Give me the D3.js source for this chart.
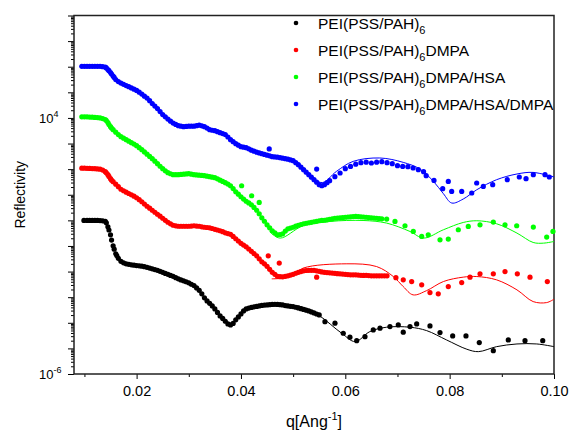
<!DOCTYPE html>
<html><head><meta charset="utf-8">
<script src="https://cdn.jsdelivr.net/npm/d3@7"></script>
<style>body{margin:0;background:#fff;}svg{display:block;font-family:Arial,"Liberation Sans",sans-serif;}</style>
</head><body>
<script>
// ---------- data ----------
const seriesNames = ["PEI(PSS/PAH)", "PEI(PSS/PAH)", "PEI(PSS/PAH)", "PEI(PSS/PAH)"];
const seriesSubs = ["6", "6", "6", "6"];
const seriesSuffix = ["", "DMPA", "DMPA/HSA", "DMPA/HSA/DMPA"];
const seriesColors = ["#000000", "#ff0000", "#00ff00", "#0000ff"];

const qBlack = [0.0099,0.0105,0.011,0.0115,0.012,0.0125,0.013,0.0135,0.014,0.0145,0.015,0.0155,0.016,0.0165,0.017,0.0175,0.018,0.019,0.020,0.021,0.022,0.023,0.024,0.025,0.026,0.027,0.028,0.029,0.030,0.031,0.032,0.0325,0.033,0.0335,0.034,0.0345,0.035,0.0355,0.036,0.0365,0.037,0.0375,0.038,0.0385,0.039,0.0395,0.040,0.0405,0.041,0.042,0.043,0.044,0.045,0.046,0.047,0.048,0.049,0.050,0.051,0.052,0.053,0.054,0.055,0.0561,0.05802,0.05961,0.06089,0.06218,0.06377,0.06536,0.06665,0.06856,0.07015,0.07111,0.0724,0.07368,0.07623,0.07815,0.08058,0.08313,0.08568,0.08837,0.09124,0.09444,0.09784,
  0.0142,0.0147,0.0152,0.0157,0.0162,0.0185,0.0195,0.0205,0.0215,0.0225,0.0235,0.0245,0.0255,0.0265,0.0275,0.0285,0.0295,0.0305,0.0315,0.0415,0.0425,0.0435,0.0445,0.0455,0.0465,0.0475,0.0485,0.0495,0.0505,0.0515,0.0525,0.0535,0.0545];
const rBlack = [0.991,0.991,0.991,0.991,0.991,0.991,0.985,0.96,0.922,0.562,0.273,0.1015,0.0494,0.0329,0.0251,0.022,0.0201,0.0183,0.0172,0.0163,0.0146,0.0128,0.0112,0.00933,0.00779,0.00651,0.0052,0.00434,0.00363,0.00285,0.00185,0.00135,0.00094,0.000717,0.000573,0.000457,0.000349,0.000254,0.000186,0.000148,0.000115,9.04e-5,8.26e-5,9.45e-5,1.30e-4,1.70e-4,2.22e-4,2.91e-4,3.49e-4,3.99e-4,4.37e-4,4.78e-4,5.0e-4,5.23e-4,5.23e-4,5.0e-4,4.57e-4,4.29e-4,3.82e-4,3.33e-4,2.91e-4,2.43e-4,2.03e-4,1.11e-4,9.63e-5,3.91e-5,2.73e-5,2.01e-5,2.88e-5,5.26e-5,6.14e-5,7.09e-5,8.26e-5,4.28e-5,7.09e-5,9.04e-5,7.55e-5,4.13e-5,3.07e-5,3.07e-5,1.68e-5,8.17e-6,2.14e-5,2.01e-5,2.01e-5,
  0.80,0.42,0.17,0.075,0.042,0.0192,0.0177,0.0168,0.0155,0.0137,0.0120,0.0102,0.0085,0.0071,0.0058,0.0047,0.0040,0.0032,0.0023,3.75e-4,4.2e-4,4.55e-4,4.9e-4,5.1e-4,5.25e-4,5.1e-4,4.7e-4,4.4e-4,4.05e-4,3.55e-4,3.1e-4,2.65e-4,2.2e-4];

const qRed = [0.0095,0.010,0.0105,0.011,0.0115,0.012,0.0125,0.013,0.0135,0.014,0.0145,0.015,0.0155,0.016,0.0165,0.017,0.018,0.019,0.020,0.021,0.022,0.023,0.024,0.025,0.026,0.027,0.028,0.029,0.030,0.031,0.032,0.033,0.034,0.035,0.036,0.037,0.038,0.039,0.040,0.041,0.042,0.043,0.0435,0.044,0.0445,0.045,0.0455,0.046,0.0465,0.047,0.048,0.049,0.050,0.051,0.052,0.053,0.054,0.055,0.056,0.057,0.058,0.059,0.060,0.061,0.062,0.063,0.064,0.065,0.066,0.067,0.068,0.0697,0.07111,0.07272,0.07464,0.07623,0.07782,0.07974,0.08231,0.0839,0.08582,0.08837,0.09061,0.09297,0.0954,0.09872,0.04523,0.04734,0.05451,
  0.0142,0.0147,0.0152,0.0175,0.0185,0.0195,0.0205,0.0215,0.0225,0.0235,0.0245,0.0255,0.0265,0.0275,0.0285,0.0295,0.0305,0.0315,0.0325,0.0335,0.0345,0.0355,0.0365,0.0375,0.0385,0.0395,0.0405,0.0415,0.0425,0.0475,0.0485,0.0495,0.0505,0.0515,0.0525,0.0535,0.0545,0.0555,0.0565,0.0575,0.0585,0.0595,0.0605,0.0615,0.0625,0.0635,0.0645,0.0655,0.0665,0.0675];
const rRed = [109,109,108,107,105,104,102,99.6,92,79.5,60.7,42.3,32.3,25.8,20.6,16.4,12.6,10.0,7.65,5.34,3.56,2.48,1.73,1.21,0.842,0.643,0.588,0.588,0.588,0.615,0.588,0.537,0.513,0.448,0.392,0.327,0.286,0.191,0.127,0.0927,0.0618,0.0412,0.0315,0.0240,0.0201,0.0160,0.0122,0.00933,0.00779,0.00651,0.00622,0.00681,0.00779,0.00933,0.0107,0.0112,0.0112,0.0102,0.00933,0.00892,0.00853,0.00815,0.00779,0.00745,0.00745,0.00712,0.00712,0.0068,0.0068,0.0068,0.0068,0.0058,0.00475,0.00408,0.00303,0.00151,0.00135,0.0026,0.00373,0.00606,0.00815,0.00815,0.0100,0.00815,0.00606,0.00408,0.0412,0.0214,0.00606,
  72,52,37,14.3,11.2,8.8,6.4,4.35,2.98,2.07,1.45,1.0,0.73,0.61,0.588,0.588,0.60,0.60,0.56,0.525,0.48,0.42,0.36,0.305,0.235,0.156,0.108,0.076,0.050,0.0063,0.0065,0.0073,0.0086,0.0100,0.0110,0.0112,0.0107,0.0097,0.0091,0.0087,0.0083,0.0080,0.0076,0.00745,0.0073,0.0071,0.0070,0.0068,0.0068,0.0068];

const qGreen = [0.0095,0.010,0.0105,0.011,0.0115,0.012,0.0125,0.013,0.0135,0.014,0.0145,0.015,0.0155,0.016,0.0165,0.017,0.018,0.019,0.020,0.021,0.022,0.023,0.024,0.025,0.026,0.027,0.028,0.029,0.030,0.031,0.032,0.033,0.034,0.035,0.036,0.037,0.038,0.039,0.040,0.041,0.042,0.043,0.0435,0.044,0.0445,0.045,0.0455,0.046,0.0465,0.047,0.048,0.049,0.050,0.051,0.052,0.053,0.054,0.055,0.056,0.057,0.058,0.059,0.060,0.061,0.062,0.063,0.064,0.065,0.066,0.067,0.06793,0.06952,0.07144,0.07303,0.07464,0.0759,0.07815,0.07974,0.08166,0.08357,0.08582,0.08837,0.09061,0.09285,0.09604,0.0986,0.0998,0.04013,0.04205,0.0435,
  0.0142,0.0147,0.0152,0.0175,0.0185,0.0195,0.0205,0.0215,0.0225,0.0235,0.0245,0.0255,0.0265,0.0275,0.0285,0.0295,0.0305,0.0315,0.0325,0.0335,0.0345,0.0355,0.0365,0.0375,0.0385,0.0395,0.0405,0.0415,0.0425,0.0475,0.0485,0.0495,0.0505,0.0515,0.0525,0.0535,0.0545,0.0555,0.0565,0.0575,0.0585,0.0595,0.0605,0.0615,0.0625,0.0635,0.0645,0.0655,0.0665];
const rGreen = [1.10e4,1.10e4,1.10e4,1.08e4,1.07e4,1.05e4,1.03e4,1.00e4,9.4e3,8.59e3,6.56e3,4.57e3,3.49e3,2.79e3,2.23e3,1.86e3,1.42e3,1.08e3,826,577,384,256,163,104,72.7,60.7,60.7,63.5,66.4,60.7,58.0,55.5,50.7,46.3,37.0,29.5,22.5,13.1,8.37,5.58,4.07,2.48,1.81,1.26,0.922,0.672,0.513,0.392,0.327,0.273,0.299,0.469,0.537,0.643,0.736,0.805,0.881,0.964,1.01,1.10,1.21,1.26,1.32,1.38,1.42,1.38,1.32,1.26,1.21,1.15,1.12,0.905,0.615,0.368,0.235,0.273,0.174,0.186,0.429,0.577,0.672,0.858,0.672,0.615,0.547,0.222,0.368,22.5,9.16,5.01,
  7.9e3,5.5e3,4.0e3,1.62e3,1.24e3,950,690,470,315,205,130,86,66,60.7,62,65,63.5,59.5,57,53,48.5,42,33,26,17.5,10.5,6.8,4.8,3.2,0.28,0.38,0.50,0.59,0.69,0.77,0.84,0.92,0.99,1.05,1.15,1.23,1.29,1.35,1.40,1.40,1.35,1.29,1.23,1.18];

const qBlue = [0.0095,0.010,0.0105,0.011,0.0115,0.012,0.0125,0.013,0.0135,0.014,0.0145,0.015,0.0155,0.016,0.0165,0.017,0.018,0.019,0.020,0.021,0.022,0.023,0.024,0.025,0.026,0.027,0.028,0.029,0.030,0.031,0.032,0.033,0.034,0.035,0.036,0.037,0.038,0.039,0.040,0.041,0.042,0.043,0.044,0.045,0.046,0.047,0.048,0.049,0.050,0.0505,0.051,0.0515,0.052,0.0525,0.053,0.0535,0.054,0.0545,0.055,0.0555,0.056,0.0565,0.057,0.058,0.059,0.060,0.061,0.062,0.063,0.064,0.065,0.066,0.067,0.068,0.069,0.070,0.071,0.072,0.073,0.074,0.075,0.0755,0.077,0.07867,0.07974,0.08039,0.08231,0.08423,0.08518,0.08645,0.08825,0.09105,0.09335,0.09464,0.09604,0.09828,0.0991,0.04542,0.05451,
  0.0142,0.0147,0.0152,0.0157,0.0175,0.0185,0.0195,0.0205,0.0215,0.0225,0.0235,0.0245,0.0255,0.0265,0.0275,0.0285,0.0295,0.0305,0.0315,0.0325,0.0335,0.0345,0.0355,0.0365,0.0375,0.0385,0.0395,0.0405,0.0415,0.0425,0.0435,0.0445,0.0455,0.0465,0.0475,0.0485,0.0495];
const rBlue = [1.04e6,1.04e6,1.04e6,1.04e6,1.04e6,1.04e6,1.04e6,1.04e6,1.0e6,9.7e5,7.75e5,5.92e5,4.32e5,3.15e5,2.63e5,2.30e5,1.84e5,1.49e5,1.19e5,8.54e4,5.95e4,3.63e4,2.31e4,1.35e4,8.99e3,6.27e3,5.00e3,4.57e3,4.78e3,4.78e3,5.23e3,4.57e3,3.49e3,3.19e3,2.66e3,2.23e3,1.42e3,990,755,690,551,460,402,351,307,293,268,245,214,179,149,119,95.2,76.0,60.7,48.4,38.7,30.9,24.7,22.5,24.7,29.5,35.4,50.7,70.7,104,128,156,179,187,174,187,196,179,163,137,128,125,111,95.2,79.5,55.5,36.3,17.2,33.2,13.5,13.5,11.7,28.7,21.2,24.7,38.7,49.3,42.3,60.7,60.7,49.3,614,101,
  9.0e5,7.0e5,5.2e5,3.8e5,2.05e5,1.66e5,1.33e5,1.01e5,7.1e4,4.7e4,2.9e4,1.77e4,1.10e4,7.5e3,5.6e3,4.75e3,4.67e3,4.78e3,5.0e3,4.9e3,4.0e3,3.3e3,2.9e3,2.45e3,1.8e3,1.18e3,860,720,620,505,430,375,330,300,280,256,230];

// fitted curves
const fitQBlack = [0.0455,0.0513,0.0548,0.0593,0.0619,0.0647,0.0679,0.0724,0.0756,0.0794,0.0833,0.0855,0.0890,0.0929,0.0967,0.100];
const fitRBlack = [4.78e-4,4.37e-4,2.03e-4,3.91e-5,1.84e-5,4.52e-5,6.71e-5,6.71e-5,4.94e-5,2.14e-5,9.26e-6,7.46e-6,1.17e-5,1.49e-5,1.49e-5,1.17e-5];
const fitQRed = [0.0459,0.0494,0.0519,0.0603,0.0660,0.0692,0.0711,0.0730,0.0756,0.0788,0.0826,0.0852,0.0890,0.0929,0.0960,0.0986,0.100];
const fitRRed = [0.0052,0.00622,0.0136,0.0201,0.0157,0.0064,0.0026,0.00123,0.00181,0.00408,0.00606,0.0064,0.00475,0.00193,0.000673,0.000615,0.000836];
const fitQGreen = [0.0455,0.0475,0.0519,0.0571,0.0634,0.0679,0.0724,0.0750,0.0788,0.0826,0.0852,0.0890,0.0929,0.0960,0.0980,0.100];
const fitRGreen = [0.36,0.203,0.615,0.905,0.99,0.784,0.368,0.203,0.429,0.827,0.964,0.736,0.318,0.137,0.129,0.150];
const fitQBlue = [0.0450,0.0490,0.0510,0.0530,0.0556,0.0583,0.0615,0.0666,0.0711,0.0743,0.0769,0.0788,0.0804,0.0826,0.0852,0.0890,0.0929,0.0960,0.100];
const fitRBlue = [351,245,150,60,30,81.7,201,273,184,101,33.2,11.0,4.75,6.80,15.7,38.7,64.7,74.6,49.3];

const xMajorTicks = [0.02,0.04,0.06,0.08,0.10];
const xTickLabels = ["0.02","0.04","0.06","0.08","0.10"];
const xMinorTicks = [0.01,0.03,0.05,0.07,0.09];
const yLabelTicks = [1e-6, 1e4];
const yLabelExps = ["-6", "4"];

// ---------- layout ----------
const W = 570, H = 430;
const L = 74, R = 554, T = 15.5, B = 374;

const svg = d3.select("body").append("svg").attr("width", W).attr("height", H);
const x = d3.scaleLinear().domain([0.008, 0.1]).range([L, R]);
const y = d3.scaleLog().domain([1e-6, 1e8]).range([B, T]);

// axes
const decades = d3.range(-6, 9).map(e => Math.pow(10, e));
const minors = [];
d3.range(-6, 8).forEach(e => { for (let k = 2; k <= 9; k++) minors.push(k * Math.pow(10, e)); });

const yMaj = svg.append("g").attr("transform", `translate(${L},0)`)
  .call(d3.axisLeft(y).tickValues(decades).tickSize(6).tickFormat(""));
const yMin = svg.append("g").attr("transform", `translate(${L},0)`)
  .call(d3.axisLeft(y).tickValues(minors).tickSize(3).tickFormat(""));
const xMaj = svg.append("g").attr("transform", `translate(0,${B})`)
  .call(d3.axisBottom(x).tickValues(xMajorTicks).tickSize(5).tickPadding(7).tickFormat((d,i) => xTickLabels[i]));
const xMin = svg.append("g").attr("transform", `translate(0,${B})`)
  .call(d3.axisBottom(x).tickValues(xMinorTicks).tickSize(3).tickFormat(""));
[yMaj, yMin, xMaj, xMin].forEach(g => {
  g.select(".domain").remove();
  g.selectAll("line").attr("stroke", "#000").attr("stroke-width", 1);
});
xMaj.selectAll("text").attr("font-size", 14.5).attr("fill", "#000").attr("font-family", "Arial, 'Liberation Sans', sans-serif");

// y tick labels with superscripts
yLabelTicks.forEach((v, i) => {
  const t = svg.append("text").attr("x", 39).attr("y", y(v) + 5)
    .attr("font-size", 13).attr("fill", "#000");
  t.append("tspan").text("10");
  t.append("tspan").attr("dy", -6).attr("font-size", 9).text(yLabelExps[i]);
});

// frame
svg.append("rect").attr("x", L).attr("y", T).attr("width", R - L).attr("height", B - T)
  .attr("fill", "none").attr("stroke", "#222").attr("stroke-width", 1.5);

// axis titles
svg.append("text").attr("transform", `translate(25,${(T + B) / 2}) rotate(-90)`)
  .attr("text-anchor", "middle").attr("font-size", 14).attr("fill", "#000").text("Reflectivity");
const xt = svg.append("text").attr("x", (L + R) / 2).attr("y", 427)
  .attr("text-anchor", "middle").attr("font-size", 16).attr("fill", "#000");
xt.append("tspan").text("q[Ang");
xt.append("tspan").attr("dy", -7).attr("font-size", 11).text("-1");
xt.append("tspan").attr("dy", 7).text("]");

// plot
const plot = svg.append("g");
const seriesQ = [qBlack, qRed, qGreen, qBlue];
const seriesR = [rBlack, rRed, rGreen, rBlue];
const fitsQ = [fitQBlack, fitQRed, fitQGreen, fitQBlue];
const fitsR = [fitRBlack, fitRRed, fitRGreen, fitRBlue];

const line = d3.line().x(d => x(d[0])).y(d => y(d[1])).curve(d3.curveCatmullRom.alpha(0.5));
fitsQ.forEach((qs, i) => {
  plot.append("path").datum(qs.map((q, j) => [q, fitsR[i][j]]))
    .attr("fill", "none").attr("stroke", seriesColors[i]).attr("stroke-width", 1).attr("d", line);
});
seriesQ.forEach((qs, i) => {
  plot.append("g").selectAll("circle").data(qs.map((q, j) => [q, seriesR[i][j]])).join("circle")
    .attr("cx", d => x(d[0])).attr("cy", d => y(d[1])).attr("r", 2.6).attr("fill", seriesColors[i]);
});

// legend
const legY = [23, 50, 77, 104];
seriesNames.forEach((n, i) => {
  svg.append("circle").attr("cx", 296).attr("cy", legY[i]).attr("r", 2.3).attr("fill", seriesColors[i]);
  const t = svg.append("text").attr("x", 318).attr("y", legY[i] + 5.5).attr("font-size", 15.5).attr("fill", "#000");
  t.append("tspan").text(n);
  t.append("tspan").attr("dy", 5).attr("font-size", 11).text(seriesSubs[i]);
  if (seriesSuffix[i]) t.append("tspan").attr("dy", -5).text(seriesSuffix[i]);
});
</script>
</body></html>
